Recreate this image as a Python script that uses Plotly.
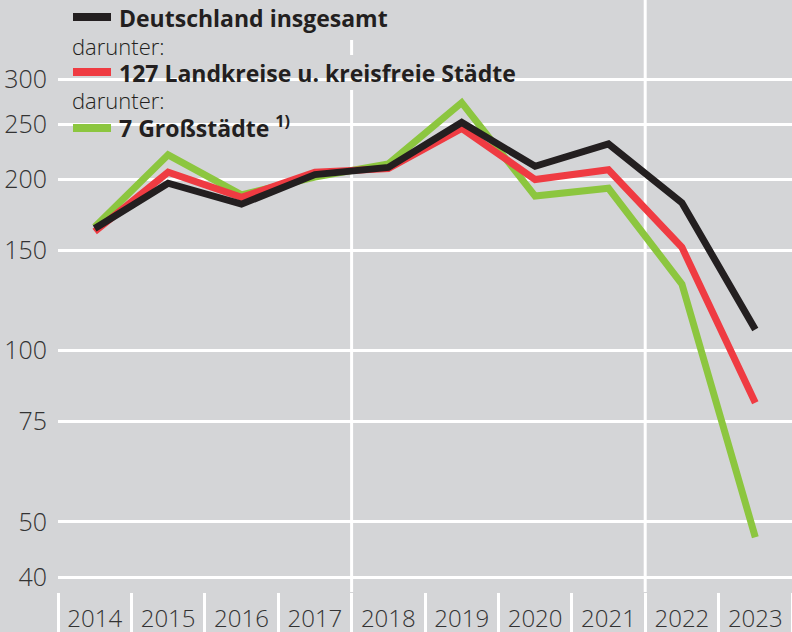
import plotly.graph_objects as go

years = ["2014", "2015", "2016", "2017", "2018", "2019", "2020", "2021", "2022", "2023"]
deutschland = [164, 197, 181, 204, 210, 252, 211, 231, 182, 109]
landkreise = [162, 206, 186, 206, 209, 246, 200, 208, 152, 81]
grossstaedte = [165, 221, 188, 202, 213, 273, 187, 193, 131, 47]
y_ticks = [40, 50, 75, 100, 150, 200, 250, 300]
divider_after = ["2017", "2021"]

BG = "#d4d5d7"
BLACK = "#231f20"
RED = "#ef3b42"
GREEN = "#8cc63f"
FONT = "Open Sans"

W, H = 792, 632
ML, MR, MT, MB = 58, 0, 0, 40
PW, PH = W - ML - MR, H - MT - MB


def px(x):
    return (x - ML) / PW


def py(y):
    return 1 - (y - MT) / PH


fig = go.Figure()
for name, vals, col in [
    ("7 Großstädte", grossstaedte, GREEN),
    ("127 Landkreise u. kreisfreie Städte", landkreise, RED),
    ("Deutschland insgesamt", deutschland, BLACK),
]:
    fig.add_trace(go.Scatter(x=years, y=vals, mode="lines", name=name,
                             line=dict(color=col, width=7), hoverinfo="skip"))

shapes = []
for yr in divider_after:
    xi = years.index(yr) + 0.5
    shapes.append(dict(type="line", xref="x", yref="paper", x0=xi, x1=xi, y0=0, y1=1,
                       line=dict(color="white", width=3), layer="between"))
# covers behind legend text
for x0, x1, y0, y1 in [(65, 392, -2, 40), (65, 518, 55, 90), (65, 300, 112, 137)]:
    shapes.append(dict(type="rect", xref="paper", yref="paper", x0=px(x0), x1=px(x1),
                       y0=py(y1), y1=py(y0), fillcolor=BG, line=dict(width=0), layer="between"))
# legend swatches
for yc, col in [(17, BLACK), (72, RED), (128, GREEN)]:
    shapes.append(dict(type="rect", xref="paper", yref="paper", x0=px(73), x1=px(111),
                       y0=py(yc + 4), y1=py(yc - 4), fillcolor=col, line=dict(width=0),
                       layer="above"))

annotations = []
for text, yc, bold in [
    ("Deutschland insgesamt", 18, True),
    ("darunter:", 46, False),
    ("127 Landkreise u. kreisfreie Städte", 73, True),
    ("darunter:", 100, False),
    ("7 Großstädte <sup>1)</sup>", 127, True),
]:
    x0 = 117 if bold else 70
    annotations.append(dict(xref="paper", yref="paper", x=px(x0), y=py(yc), xanchor="left",
                            yanchor="middle", text=text, showarrow=False,
                            font=dict(family=FONT, size=23 if bold else 22, color=BLACK,
                                      weight=700 if bold else 300)))

fig.update_layout(
    width=W, height=H,
    margin=dict(l=ML, r=MR, t=MT, b=MB, pad=0, autoexpand=False),
    paper_bgcolor=BG, plot_bgcolor=BG,
    showlegend=False,
    shapes=shapes,
    annotations=annotations,
    xaxis=dict(type="category", range=[-0.5, 9.5], tickson="boundaries", ticks="outside",
               ticklen=40, tickwidth=3, tickcolor="white", showgrid=False, showline=False,
               zeroline=False, automargin=False,
               tickfont=dict(family=FONT, size=24, color="#333333", weight=300),
               ticklabelstandoff=10),
    yaxis=dict(type="log", range=[1.57568, 2.61666], tickvals=y_ticks,
               ticktext=[str(v) for v in y_ticks], showgrid=True, gridcolor="white",
               gridwidth=3, ticks="", showline=False, zeroline=False, automargin=False,
               ticklabelstandoff=10,
               tickfont=dict(family=FONT, size=25, color="#333333", weight=300)),
)

fig.write_html("out.html", config={"displayModeBar": False},
               post_script="document.body.style.margin='0px';document.body.style.overflow='hidden';")
